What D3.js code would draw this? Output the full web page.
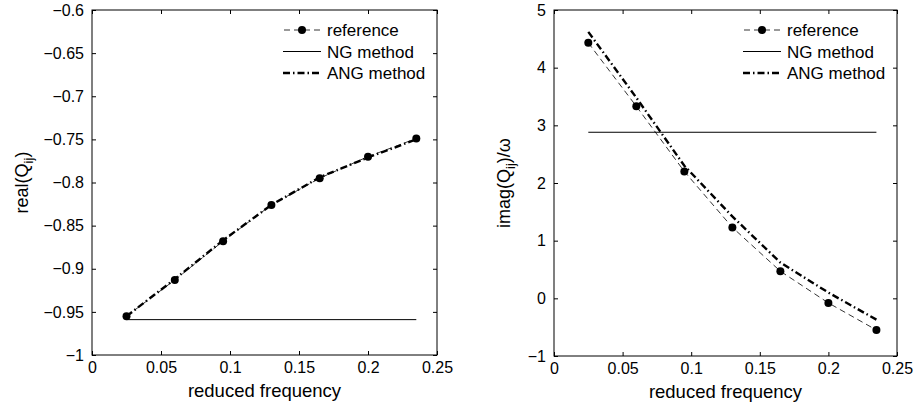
<!DOCTYPE html>
<html>
<head>
<meta charset="utf-8">
<script src="https://cdn.jsdelivr.net/npm/d3@7"></script>
<style>
  body { margin: 0; background: #fff; }
  text { font-family: "Liberation Sans", Arial, sans-serif; fill: #000; }
</style>
</head>
<body>
<svg id="chart"></svg>
<script>
// reduced frequency samples
const freq = [0.025, 0.06, 0.095, 0.13, 0.165, 0.2, 0.235];

// left panel: real part
const realRef = [-0.955, -0.913, -0.868, -0.826, -0.795, -0.770, -0.749];
const realAng = [-0.955, -0.912, -0.867, -0.826, -0.794, -0.771, -0.750];
const realNg = -0.959;

// right panel: imag part / omega
const imagRef = [4.43, 3.33, 2.20, 1.23, 0.47, -0.08, -0.55];
const imagAng = [4.62, 3.48, 2.30, 1.42, 0.62, 0.10, -0.37];
const imagNg = 2.88;

const xTicks = [0, 0.05, 0.1, 0.15, 0.2, 0.25];
const realTicks = [-1, -0.95, -0.9, -0.85, -0.8, -0.75, -0.7, -0.65, -0.6];
const imagTicks = [-1, 0, 1, 2, 3, 4, 5];

const legendNames = ['reference', 'NG method', 'ANG method'];

const svg = d3.select('#chart')
  .attr('width', 918)
  .attr('height', 405);

const fmt = v => String(v).replace('-', '\u2212');

const drawPanel = (opts) => {
  const { left, top, w, h, yDomain, yTicks, refVals, angVals, ngVal, yLabel, yLabelOff } = opts;

  const xScale = d3.scaleLinear().domain([0, 0.25]).range([0, w]);
  const yScale = d3.scaleLinear().domain(yDomain).range([h, 0]);

  const g = svg.append('g')
    .attr('transform', `translate(${left}, ${top})`);

  // axes (ticks inward on all four sides)
  const styleAxis = sel => {
    sel.selectAll('.domain').remove();
    sel.selectAll('line').attr('stroke', '#000');
    sel.selectAll('text')
      .style('font-size', '16px')
      .style('font-family', '"Liberation Sans", Arial, sans-serif');
  };

  g.append('g')
    .attr('transform', `translate(0, ${h})`)
    .call(d3.axisBottom(xScale).tickValues(xTicks).tickFormat(fmt).tickSizeInner(-4).tickSizeOuter(0).tickPadding(7))
    .call(styleAxis);
  g.append('g')
    .call(d3.axisTop(xScale).tickValues(xTicks).tickFormat('').tickSizeInner(-4).tickSizeOuter(0))
    .call(styleAxis);
  g.append('g')
    .call(d3.axisLeft(yScale).tickValues(yTicks).tickFormat(fmt).tickSizeInner(-4).tickSizeOuter(0).tickPadding(8))
    .call(styleAxis);
  g.append('g')
    .attr('transform', `translate(${w}, 0)`)
    .call(d3.axisRight(yScale).tickValues(yTicks).tickFormat('').tickSizeInner(-4).tickSizeOuter(0))
    .call(styleAxis);

  g.append('rect')
    .attr('width', w)
    .attr('height', h)
    .attr('fill', 'none')
    .attr('stroke', '#000')
    .attr('stroke-width', 1);

  const pts = vals => vals.map((v, i) => [freq[i], v]);
  const line = d3.line()
    .x(d => xScale(d[0]))
    .y(d => yScale(d[1]));

  // NG method
  g.append('path')
    .attr('d', line([[freq[0], ngVal], [freq[freq.length - 1], ngVal]]))
    .attr('fill', 'none')
    .attr('stroke', '#000')
    .attr('stroke-width', 1);

  // reference
  g.append('path')
    .attr('d', line(pts(refVals)))
    .attr('fill', 'none')
    .attr('stroke', '#000')
    .attr('stroke-width', 0.8)
    .attr('stroke-dasharray', '6,4');

  g.selectAll('circle.ref')
    .data(pts(refVals))
    .join('circle')
    .attr('class', 'ref')
    .attr('cx', d => xScale(d[0]))
    .attr('cy', d => yScale(d[1]))
    .attr('r', 4)
    .attr('fill', '#000');

  // ANG method
  g.append('path')
    .attr('d', line(pts(angVals)))
    .attr('fill', 'none')
    .attr('stroke', '#000')
    .attr('stroke-width', 2.4)
    .attr('stroke-dasharray', '7,3,1.5,3');

  // legend
  const lg = g.append('g')
    .attr('transform', `translate(${w - 154}, 20)`);
  legendNames.forEach((name, i) => {
    const row = lg.append('g').attr('transform', `translate(0, ${i * 21.5})`);
    const ln = row.append('line')
      .attr('x1', 0).attr('x2', 38)
      .attr('y1', 0).attr('y2', 0)
      .attr('stroke', '#000');
    if (i === 0) {
      ln.attr('stroke-width', 0.8).attr('stroke-dasharray', '6,4').attr('stroke-dashoffset', -1);
      row.append('circle').attr('cx', 19).attr('cy', 0).attr('r', 4).attr('fill', '#000');
    } else if (i === 1) {
      ln.attr('stroke-width', 1);
    } else {
      ln.attr('stroke-width', 2.4).attr('stroke-dasharray', '7,3,1.5,3');
    }
    row.append('text')
      .attr('x', 44)
      .attr('y', 6)
      .style('font-size', '17px')
      .text(name);
  });

  // x label
  g.append('text')
    .attr('x', w / 2)
    .attr('y', h + 42)
    .attr('text-anchor', 'middle')
    .style('font-size', '18.5px')
    .text('reduced frequency');

  // y label with subscript
  const yl = g.append('text')
    .attr('transform', `translate(${yLabelOff}, ${h / 2}) rotate(-90)`)
    .attr('text-anchor', 'middle')
    .style('font-size', '18px');
  yl.append('tspan').text(yLabel[0]);
  yl.append('tspan').attr('dy', 5).style('font-size', '13px').text('ij');
  yl.append('tspan').attr('dy', -5).text(yLabel[1]);
};

drawPanel({
  left: 92, top: 10, w: 345, h: 345,
  yDomain: [-1, -0.6], yTicks: realTicks,
  refVals: realRef, angVals: realAng, ngVal: realNg,
  yLabel: ['real(Q', ')'], yLabelOff: -64
});

drawPanel({
  left: 554, top: 10, w: 343, h: 346,
  yDomain: [-1, 5], yTicks: imagTicks,
  refVals: imagRef, angVals: imagAng, ngVal: imagNg,
  yLabel: ['imag(Q', ')/\u03c9'], yLabelOff: -44
});
</script>
</body>
</html>
